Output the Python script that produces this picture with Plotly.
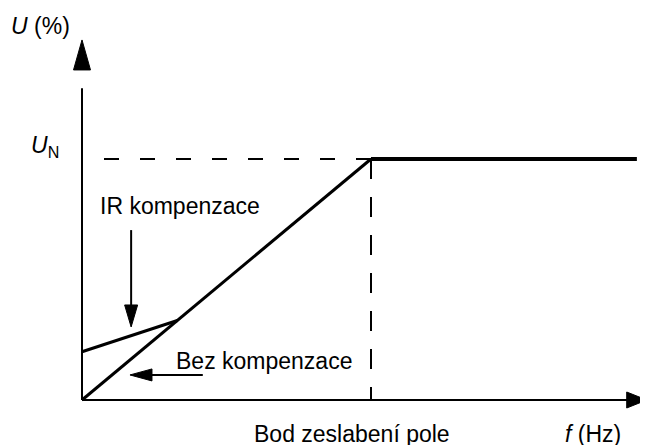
import plotly.graph_objects as go

# U/f characteristic, x = frequency (% of field weakening point), y = voltage (%)
f_base = [0, 50, 96]          # origin, field weakening point, end of flat part
u_base = [0, 100, 100]
f_ir = [0, 16.5]              # IR compensation segment
u_ir = [20, 33]
f_weak = 50
u_nom = 100

x_tip = 97.7                  # arrow tips of the axes
y_tip = 149.4

# page has an 8px body margin, so the figure is 8px smaller than the window
W, H = 640, 437
OX, OY = 74, 392              # pixel position of the origin inside the figure
px_x = 5.78                   # pixels per x unit
px_y = 2.41                   # pixels per y unit
x_rng = [-OX / px_x, (W - OX) / px_x]
y_rng = [-(H - OY) / px_y, OY / px_y]


def head(tx, ty, ux, uy, length, half):
    # filled triangle; (ux, uy) is direction in screen pixels (y up)
    bx, by = -ux * length, -uy * length
    nx, ny = -uy * half, ux * half
    xs = [tx, tx + (bx + nx) / px_x, tx + (bx - nx) / px_x, tx]
    ys = [ty, ty + (by + ny) / px_y, ty + (by - ny) / px_y, ty]
    return go.Scatter(x=xs, y=ys, mode="lines", fill="toself", fillcolor="black",
                      line=dict(color="black", width=1), hoverinfo="skip")


def line(xs, ys, w, dash=None):
    return go.Scatter(x=xs, y=ys, mode="lines", hoverinfo="skip",
                      line=dict(color="black", width=w, dash=dash))


fig = go.Figure()
# axes
fig.add_trace(line([0, 0], [0, y_tip - 20], 2))
fig.add_trace(line([0, x_tip - 3], [0, 0], 2))
fig.add_trace(head(0, y_tip, 0, 1, 30, 8.5))
fig.add_trace(head(x_tip, 0, 1, 0, 20, 8))
# dashed guides
fig.add_trace(line([f_weak, 0], [u_nom, u_nom], 2, "15px,21px"))
fig.add_trace(line([f_weak, f_weak], [u_nom, 0], 2, "20px,18px"))
# characteristic
fig.add_trace(line(f_base[:2], u_base[:2], 3))
fig.add_trace(line(f_base[1:], u_base[1:], 4))
fig.add_trace(line(f_ir, u_ir, 3))
# pointer arrows
fig.add_trace(line([8.5, 8.5], [70.5, 38], 2))
fig.add_trace(head(8.5, 30.3, 0, -1, 22, 6.5))
fig.add_trace(line([20.9, 12], [10.4, 10.4], 2))
fig.add_trace(head(8.3, 10.4, -1, 0, 22, 6))

font = dict(family="Liberation Sans, Arial, sans-serif", size=23, color="black")
texts = [
    ("<i>U</i> (%)", -7.1, 155.0, "center"),
    ("<i>U</i><sub>N</sub>", -6.4, 105.0, "center"),
    ("IR kompenzace", 2.8, 80.5, "left"),
    ("Bez kompenzace", 15.9, 16.0, "left"),
    ("Bod zeslabení pole", 29.4, -14.3, "left"),
    ("<i>f</i> (Hz)", 83.2, -14.3, "left"),
]
for t, x, y, anchor in texts:
    fig.add_annotation(text=t, x=x, y=y, xref="x", yref="y", showarrow=False,
                       xanchor=anchor, yanchor="middle", font=font)

fig.update_layout(
    width=W, height=H,
    margin=dict(l=0, r=0, t=0, b=0),
    plot_bgcolor="white", paper_bgcolor="white",
    showlegend=False,
    xaxis=dict(range=x_rng, visible=False, fixedrange=True),
    yaxis=dict(range=y_rng, visible=False, fixedrange=True),
)
fig.write_html("out.html")
